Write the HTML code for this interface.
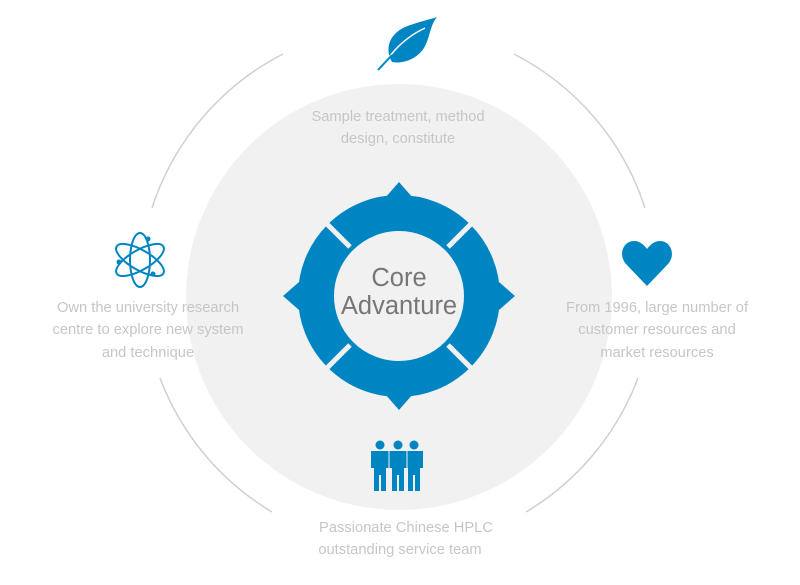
<!DOCTYPE html>
<html><head><meta charset="utf-8"><style>
body{margin:0;background:#fff;}
.t{font-family:"Liberation Sans","DejaVu Sans",sans-serif;}
</style></head><body>
<svg width="800" height="580" xmlns="http://www.w3.org/2000/svg">
<g fill="none" stroke="#d0d0d0" stroke-width="1.5">
<path d="M283,54 A265,265 0 0 0 152,208"/>
<path d="M514,54 A265,265 0 0 1 645,208"/>
<path d="M160,378 A265,265 0 0 0 272,512"/>
<path d="M638,378 A265,265 0 0 1 526,512"/>
</g>
<circle cx="399" cy="297" r="213" fill="#f1f1f1"/>
<g fill="#0085c3">
<circle cx="399" cy="296" r="83" fill="none" stroke="#0085c3" stroke-width="36"/>
<polygon points="399,182 385,198 413,198"/>
<polygon points="399,410 385,394 413,394"/>
<polygon points="283,296 299,282 299,310"/>
<polygon points="515,296 499,282 499,310"/>
</g>
<g stroke="#f1f1f1" stroke-width="5">
<line x1="350" y1="247" x2="322" y2="219"/>
<line x1="448" y1="247" x2="476" y2="219"/>
<line x1="350" y1="345" x2="322" y2="373"/>
<line x1="448" y1="345" x2="476" y2="373"/>
</g>
<text class="t" x="399" y="286" font-size="25.5" fill="#777" text-anchor="middle">Core</text>
<text class="t" x="399" y="314" font-size="25.5" fill="#777" text-anchor="middle">Advanture</text>
<g class="t" font-size="14.7" fill="#c6c6c6" text-anchor="middle">
<text x="398" y="121">Sample treatment, method</text>
<text x="398" y="143">design, constitute</text>
<text x="148" y="312">Own the university research</text>
<text x="148" y="334">centre to explore new system</text>
<text x="148" y="357">and technique</text>
<text x="657" y="312">From 1996, large number of</text>
<text x="657" y="334">customer resources and</text>
<text x="657" y="357">market resources</text>
<text x="406" y="532">Passionate Chinese HPLC</text>
<text x="400" y="554">outstanding service team</text>
</g>
<!-- leaf -->
<path d="M392,62 C385,50 388,35 405,27 C418,22 428,20 437,17 C430,25 430,38 424,48 C416,60 402,64 392,62 Z" fill="#0085c3"/>
<path d="M378,70 L395,50 Q408,36 425,28" stroke="#fff" stroke-width="1.5" fill="none"/>
<path d="M378,70 L392,55" stroke="#0085c3" stroke-width="2" fill="none"/>
<!-- atom -->
<g fill="none" stroke="#0085c3" stroke-width="2">
<ellipse cx="140" cy="260" rx="10" ry="27"/>
<ellipse cx="140" cy="260" rx="10" ry="27" transform="rotate(60 140 260)"/>
<ellipse cx="140" cy="260" rx="10" ry="27" transform="rotate(-60 140 260)"/>
</g>
<g fill="#0085c3"><circle cx="148" cy="239" r="2.5"/><circle cx="119" cy="262" r="2.5"/><circle cx="153" cy="274" r="2.5"/></g>
<!-- heart -->
<path d="M647,286 L626,264 C618,255 623,241 634,241 C640,241 644,245 647,249 C650,245 654,241 660,241 C671,241 676,255 668,264 Z" fill="#0085c3"/>
<!-- people -->
<g fill="#0085c3">
<circle cx="380" cy="445" r="4.5"/><circle cx="398" cy="445" r="4.5"/><circle cx="414" cy="445" r="4.5"/>
<path d="M371,451 h18 v17 h-3 v23 h-5 v-16 h-2 v16 h-5 v-23 h-3z"/>
<path d="M389,451 h18 v17 h-3 v23 h-5 v-16 h-2 v16 h-5 v-23 h-3z"/>
<path d="M405,451 h18 v17 h-3 v23 h-5 v-16 h-2 v16 h-5 v-23 h-3z"/>
</g>
<g stroke="#f1f1f1" stroke-width="1"><line x1="389" y1="451" x2="389" y2="468"/><line x1="407" y1="451" x2="407" y2="468"/></g>
</svg>
</body></html>
